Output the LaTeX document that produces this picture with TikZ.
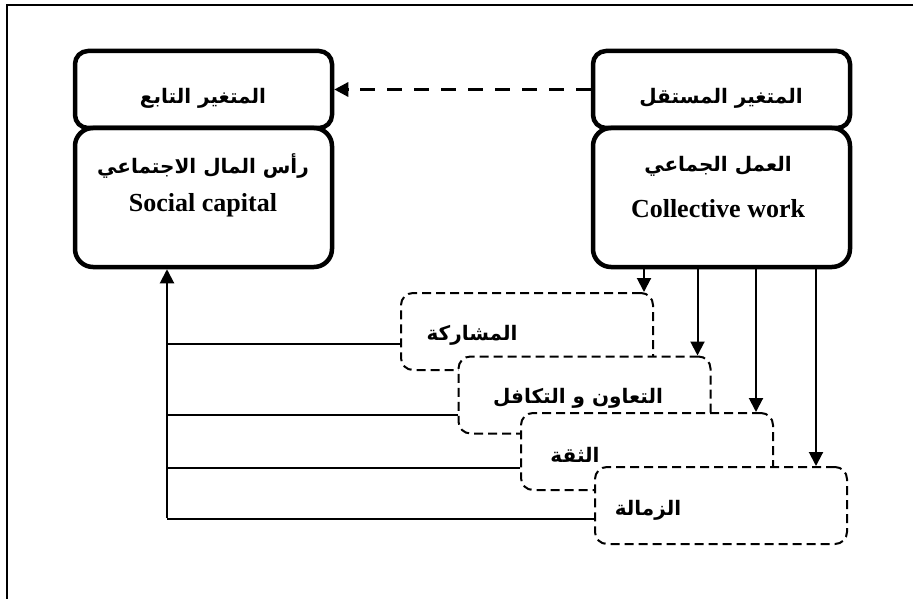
\documentclass[tikz,border=0pt]{standalone}
\usepackage{fontspec}
\setmainfont{Liberation Serif}
\newfontfamily\arabicfont[Script=Arabic]{DejaVu Sans}
\TeXXeTstate=1
\usetikzlibrary{arrows.meta}
\newcommand{\artxt}[1]{{\arabicfont\bfseries\fontsize{20}{24}\selectfont\beginR #1\endR}}
\newcommand{\latxt}[1]{{\bfseries\fontsize{26}{30}\selectfont #1}}

\begin{document}
\begin{tikzpicture}[x=1pt,y=-1pt,
  varhead/.style={draw, line width=4.5pt, rounded corners=13pt, minimum width=257pt, minimum height=77pt, inner sep=0pt},
  varbody/.style={draw, line width=4.5pt, rounded corners=18pt, minimum width=257pt, minimum height=139pt, inner sep=0pt},
  dimbox/.style={draw, fill=white, line width=2pt, dash pattern=on 9pt off 5pt, rounded corners=12pt, minimum width=252pt, minimum height=77pt, inner sep=0pt},
  tip/.style={-{Triangle[length=14pt,width=14pt]}}]
\useasboundingbox (0,0) rectangle (923,599);

\draw[line width=1.5pt] (913,5) -- (7,5) -- (7,599);

% dependent and independent variable
\node[varhead] (lh) at (203.5,89.5) {};
\node[varbody] (lb) at (203.5,197.5) {};
\node[varhead] (rh) at (721.5,89.5) {};
\node[varbody] (rb) at (721.5,197.5) {};

\node (lht) at (203,98) {\artxt{المتغير التابع}};
\node (lbt) at (203,166) {\artxt{رأس المال الاجتماعي}};
\node (lbe) at (203,205) {\latxt{Social capital}};
\node (rht) at (721,98) {\artxt{المتغير المستقل}};
\node (rbt) at (718,166) {\artxt{العمل الجماعي}};
\node (rbe) at (718,209) {\latxt{Collective work}};

\draw[tip, line width=3pt, dash pattern=on 15pt off 12pt] (rh.west) -- (lh.east);

% dimensions
\node[dimbox] (b1) at (527,331.5) {};
\node[dimbox] (b2) at (584.5,395) {};
\node[dimbox] (b3) at (647,451.5) {};
\node[dimbox] (b4) at (721,505.5) {};

\node (t1) at (472,335) {\artxt{المشاركة}};
\node (t2) at (578,398) {\artxt{التعاون و التكافل}};
\node (t3) at (575,455) {\artxt{الثقة}};
\node (t4) at (648,510) {\artxt{الزمالة}};

\coordinate (bus) at (167,518);
\draw[tip, line width=2pt] (bus) -- (bus |- lb.south);

\coordinate (m1) at ([yshift=27pt]b1.south west);
\coordinate (m2) at ([yshift=20pt]b2.south west);
\coordinate (m3) at ([yshift=23pt]b3.south west);
\coordinate (m4) at ([yshift=26pt]b4.south west);
\foreach \m in {m1,m2,m3,m4}
    \draw[line width=2pt] (\m) -- (bus |- \m);

\coordinate (a1) at ([xshift=-10pt]b1.north east);
\coordinate (a2) at ([xshift=-14pt]b2.north east);
\coordinate (a3) at ([xshift=-18pt]b3.north east);
\coordinate (a4) at ([xshift=-32pt]b4.north east);
\foreach \a in {a1,a2,a3,a4}
    \draw[tip, line width=2pt] (\a |- rb.south) -- (\a);

\end{tikzpicture}
\end{document}
